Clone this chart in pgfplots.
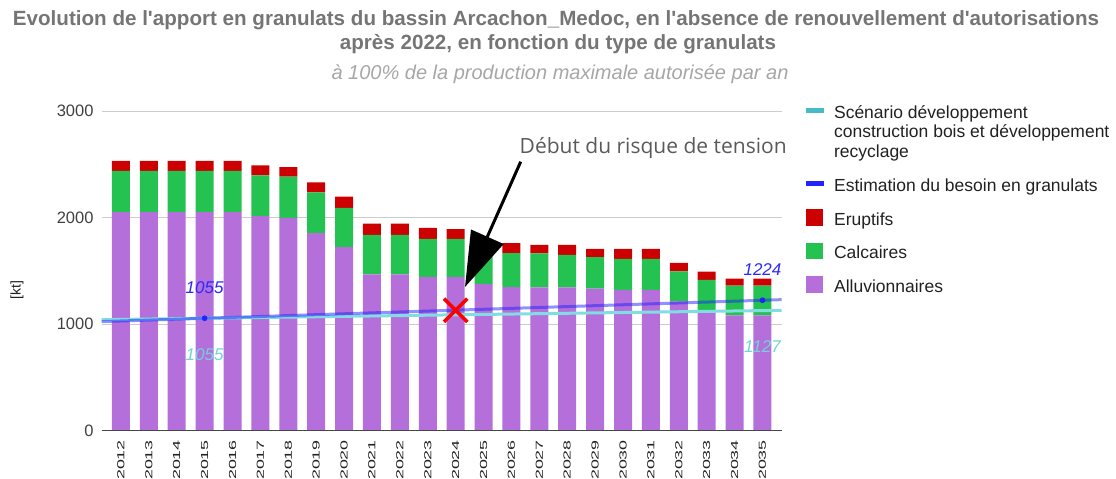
\documentclass[border=0pt]{standalone}
\usepackage{fontspec}
\setmainfont{Liberation Sans}
\newfontfamily\annfont{Open Sans}
\newfontfamily\xlabfont[FakeStretch=1.75]{Liberation Sans}
\usepackage{pgfplots}
\usepackage{pgfplotstable}
\pgfplotsset{compat=1.18}
\usetikzlibrary{arrows.meta}
\definecolor{alluv}{HTML}{B56FDA}
\definecolor{calc}{HTML}{24C250}
\definecolor{erupt}{HTML}{CC0000}
\definecolor{estim}{HTML}{2222FF}
\definecolor{scen}{HTML}{46BDC6}
\definecolor{scenline}{HTML}{80DEE3}
\definecolor{lblblue}{HTML}{2A2AFF}
\definecolor{lblcyan}{HTML}{6FD3D8}
\definecolor{titlegray}{HTML}{757575}
\definecolor{subgray}{HTML}{A6A6A6}
\definecolor{anngray}{HTML}{5A5A5A}

\pgfplotstableread{
year alluv calc erupt
2012 2050 387 94
2013 2050 387 94
2014 2050 387 94
2015 2050 387 94
2016 2050 387 94
2017 2013 383 94
2018 1998 386 90
2019 1853 383 94
2020 1722 370 104
2021 1468 370 104
2022 1468 370 104
2023 1443 358 103
2024 1443 358 90
2025 1375 325 90
2026 1347 320 94
2027 1345 320 79
2028 1345 305 94
2029 1333 295 78
2030 1321 291 94
2031 1321 291 94
2032 1214 282 79
2033 1117 298 78
2034 1082 279 66
2035 1082 279 66
}\bars

\begin{document}
\begin{tikzpicture}[x=1pt,y=1pt]
\useasboundingbox (0,0) rectangle (1116,479);

\node[anchor=base, inner sep=0pt, font=\bfseries\fontsize{20.6}{24}\selectfont, text=titlegray] at (556,453)
  {Evolution de l\textquotesingle apport en granulats du bassin Arcachon\_Medoc, en l\textquotesingle absence de renouvellement d\textquotesingle autorisations};
\node[anchor=base, inner sep=0pt, font=\bfseries\fontsize{20.6}{24}\selectfont, text=titlegray] at (558,429)
  {après 2022, en fonction du type de granulats};
\node[anchor=base, inner sep=0pt, font=\itshape\fontsize{20}{23}\selectfont, text=subgray] at (560,399)
  {à 100\% de la production maximale autorisée par an};

\begin{axis}[
  at={(101.7pt,48.3pt)}, anchor=south west,
  scale only axis, width=680pt, height=319.7pt,
  xmin=2011.31, xmax=2035.69, ymin=0, ymax=3000,
  ybar stacked, bar width=18pt,
  xtick={2012,2013,...,2035}, ytick={0,1000,2000,3000},
  axis line style={draw=none},
  major tick length=0pt,
  ymajorgrids, grid style={draw=black!20, line width=0.9pt},
  /pgf/number format/1000 sep={},
  /pgf/number format/assume math mode=true,
  xticklabel style={font=\xlabfont\fontsize{10.2}{12}\selectfont, text=black!87, rotate=90, anchor=east, inner sep=0pt},
  xticklabel shift=9.3pt,
  yticklabel style={font=\fontsize{16.5}{18}\selectfont, text=black!75, inner sep=0pt},
  yticklabel shift=8pt,
  ylabel={\relax[kt]},
  ylabel style={at={(axis description cs:-0.1246,0.44)}, anchor=center, font=\fontsize{14}{16}\selectfont, text=black!87},
  reverse legend,
  legend cell align=left,
  legend style={draw=none, fill=none, inner sep=0pt, outer sep=0pt,
    at={(1.0357,1.017)}, anchor=north west,
    font=\fontsize{17.5}{19.3}\selectfont, text=black!87,
    cells={align=left}, nodes={inner sep=0pt},
    row sep=16pt,
    /tikz/every odd column/.append style={column sep=11pt}},
]
\addplot[fill=alluv, draw=none,
  legend image code/.code={\fill[alluv] (0pt,-6pt) rectangle (16.7pt,10.7pt);}]
  table[x=year, y=alluv] {\bars};
\addlegendentry{Alluvionnaires}
\addplot[fill=calc, draw=none,
  legend image code/.code={\fill[calc] (0pt,-6pt) rectangle (16.7pt,10.7pt);}]
  table[x=year, y=calc] {\bars};
\addlegendentry{Calcaires}
\addplot[fill=erupt, draw=none,
  legend image code/.code={\fill[erupt] (0pt,-6pt) rectangle (16.7pt,10.7pt);}]
  table[x=year, y=erupt] {\bars};
\addlegendentry{Eruptifs}
\addlegendimage{legend image code/.code={\path (0pt,11pt); \fill[estim] (0pt,0.3pt) rectangle (16.7pt,4.3pt);}}
\addlegendentry{Estimation du besoin en granulats}
\addlegendimage{legend image code/.code={\fill[scen] (0pt,19.6pt) rectangle (16.7pt,23.6pt);}}
\addlegendentry{Scénario développement\\construction bois et développement\\recyclage}
\end{axis}

\begin{axis}[
  at={(101.7pt,48.3pt)}, anchor=south west,
  scale only axis, width=680pt, height=319.7pt,
  xmin=2011.31, xmax=2035.69, ymin=0, ymax=3000,
  hide y axis, axis x line*=bottom,
  x axis line style={-, draw=black!72, line width=1.3pt},
  xtick=\empty,
  /pgf/number format/1000 sep={},
  /pgf/number format/assume math mode=true,
]
\addplot[scenline, line width=3pt] coordinates {(2011.31,1041.7) (2035.69,1129.5)};
\addplot[estim, line width=3pt, opacity=0.5] coordinates {(2011.31,1023.8) (2035.69,1229.8)};
\addplot[only marks, mark=*, mark size=2.6pt, color=estim,
  nodes near coords,
  nodes near coords style={anchor=center, yshift=31pt, font=\itshape\fontsize{17}{20}\selectfont, text=lblblue}]
  coordinates {(2015,1055) (2035,1224)};
\addplot[draw=none, mark=none,
  nodes near coords,
  nodes near coords style={anchor=center, yshift=-36pt, font=\itshape\fontsize{17}{20}\selectfont, text=lblcyan}]
  coordinates {(2015,1055) (2035,1127)};
\addplot[only marks, mark=x, mark size=16.5pt, mark options={line width=3.5pt, draw=red}]
  coordinates {(2024,1130)};
\end{axis}

\draw[line width=3pt, -{Triangle[length=55pt,width=35pt]}] (520.7,317.3) -- (465,192);
\node[anchor=base west, inner sep=0pt, font=\annfont\fontsize{21}{24}\selectfont, text=anngray] at (519.5,325.7)
  {Début du risque de tension};
\end{tikzpicture}
\end{document}
